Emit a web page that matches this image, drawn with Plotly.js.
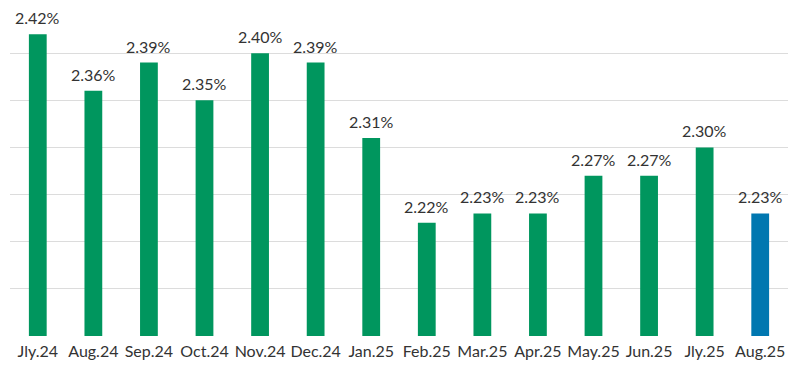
<!DOCTYPE html>
<html>
<head>
<meta charset="utf-8">
<script src="https://cdn.plot.ly/plotly-3.0.1.min.js"></script>
<style>html,body{margin:0;padding:0;background:#fff;}#chart{width:800px;height:370px;}</style>
</head>
<body>
<div id="chart"></div>
<script>
const categories = ["Jly.24","Aug.24","Sep.24","Oct.24","Nov.24","Dec.24","Jan.25","Feb.25","Mar.25","Apr.25","May.25","Jun.25","Jly.25","Aug.25"];
const values = [2.42,2.36,2.39,2.35,2.40,2.39,2.31,2.22,2.23,2.23,2.27,2.27,2.30,2.23];
const labels = ["2.42%","2.36%","2.39%","2.35%","2.40%","2.39%","2.31%","2.22%","2.23%","2.23%","2.27%","2.27%","2.30%","2.23%"];
const green = "#00965E", blue = "#0077B0";
const colors = categories.map((c,i)=> i === categories.length-1 ? blue : green);

const trace = {
  type: "bar",
  x: categories,
  y: values,
  marker: {color: colors},
  hoverinfo: "none"
};
const annotations = categories.map((c,i)=>({
  x: c, y: values[i], text: labels[i], showarrow: false,
  yanchor: "bottom", yshift: 5,
  font: {family: "Lato, 'Open Sans', sans-serif", size: 16, color: "#333333"}
}));
const layout = {
  width: 800, height: 370,
  margin: {l: 10, r: 12, t: 6, b: 34},
  paper_bgcolor: "#ffffff", plot_bgcolor: "#ffffff",
  bargap: 0.68,
  showlegend: false,
  xaxis: {
    type: "category", showgrid: false, zeroline: false, showline: false,
    ticks: "", ticklen: 0, ticklabelstandoff: 4,
    tickfont: {family: "Lato, 'Open Sans', sans-serif", size: 16, color: "#333333"}
  },
  yaxis: {
    range: [2.10, 2.45], dtick: 0.05, tick0: 2.10,
    showticklabels: false, showgrid: true, gridcolor: "#dcdcdc", gridwidth: 1,
    zeroline: false, showline: false
  },
  annotations: annotations
};
Plotly.newPlot("chart", [trace], layout, {staticPlot: true, displayModeBar: false});
</script>
</body>
</html>
